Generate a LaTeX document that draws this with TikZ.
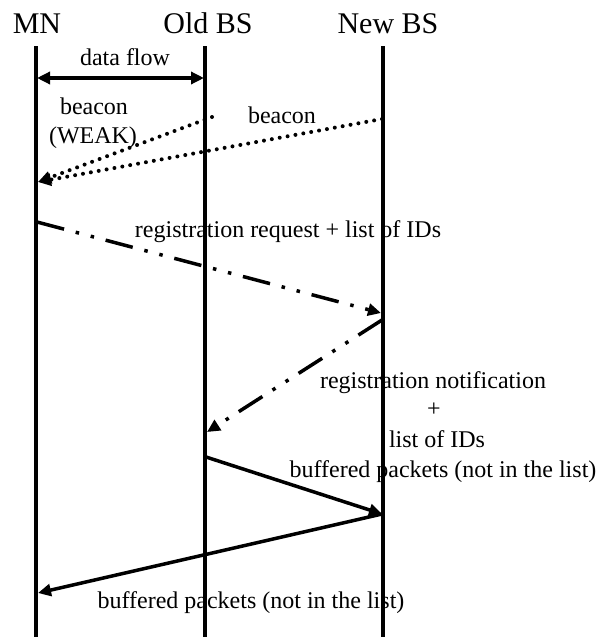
\documentclass[tikz,border=0pt]{standalone}
\usepackage{fontspec}
\setmainfont{Liberation Serif}
\usetikzlibrary{arrows.meta}
\begin{document}
\begin{tikzpicture}[x=1pt,y=-1pt,
  head/.style={anchor=base,inner sep=0pt,font=\fontsize{30}{34}\selectfont},
  lbl/.style={anchor=base,inner sep=0pt,font=\fontsize{24}{28}\selectfont},
  lifeline/.style={line width=4pt},
  tip/.style={-{Triangle[length=13pt,width=12pt]}},
  msg/.style={line width=3.5pt,tip},
  dotline/.style={msg,line cap=round,dash pattern=on 0pt off 8pt},
  dashdot/.style={msg,line cap=butt,dash pattern=on 28pt off 12pt on 3.5pt off 12pt on 3.5pt off 12pt}]
\useasboundingbox (0,0) rectangle (599,637);

% entities
\node[head] (mn)  at (37,33)  {MN};
\node[head] (old) at (208,33) {Old BS};
\node[head] (new) at (388,33) {New BS};

% lifelines
\coordinate (mnT) at (36,46);   \coordinate (mnB) at (36,637);
\coordinate (oldT) at (205,46); \coordinate (oldB) at (205,637);
\coordinate (newT) at (383,46); \coordinate (newB) at (383,637);
\draw[lifeline] (mnT) -- (mnB);
\draw[lifeline] (oldT) -- (oldB);
\draw[lifeline] (newT) -- (newB);

% message end points
\coordinate (df1) at (37,78);   \coordinate (df2) at (204,78);
\coordinate (b1s) at (212,117); \coordinate (b2s) at (382,119);
\coordinate (bT)  at (38,182);
\coordinate (rqS) at (37,222);  \coordinate (rqT) at (381,313);
\coordinate (rnS) at (382,320); \coordinate (rnT) at (207,432);
\coordinate (bpS) at (206,457); \coordinate (bpT) at (382,514);
\coordinate (bmT) at (38,593);

% messages
\draw[msg,{Triangle[length=13pt,width=12pt]}-{Triangle[length=13pt,width=12pt]}] (df1) -- (df2);
\draw[dotline,line width=4pt] (b1s) -- (bT);
\draw[dotline,line width=4pt] (b2s) -- (bT);
\draw[dashdot] (rqS) -- (rqT);
\draw[dashdot] (rnS) -- (rnT);
\draw[msg] (bpS) -- (bpT);
\draw[msg] (bpT) -- (bmT);

% labels
\node[lbl] (ldf) at (125,65) {data flow};
\node[lbl] (lb1) at (94,114) {beacon};
\node[lbl] (lb1w) at (93,143) {(WEAK)};
\node[lbl] (lb2) at (282,123) {beacon};
\node[lbl] (lrq) at (288,237) {registration request + list of IDs};
\node[lbl] (lrn1) at (433,388) {registration notification};
\node[lbl] (lrn2) at (434,416) {+};
\node[lbl] (lrn3) at (437,447) {list of IDs};
\node[lbl] (lbp1) at (443,477) {buffered packets (not in the list)};
\node[lbl] (lbp2) at (251,608) {buffered packets (not in the list)};
\end{tikzpicture}
\end{document}
